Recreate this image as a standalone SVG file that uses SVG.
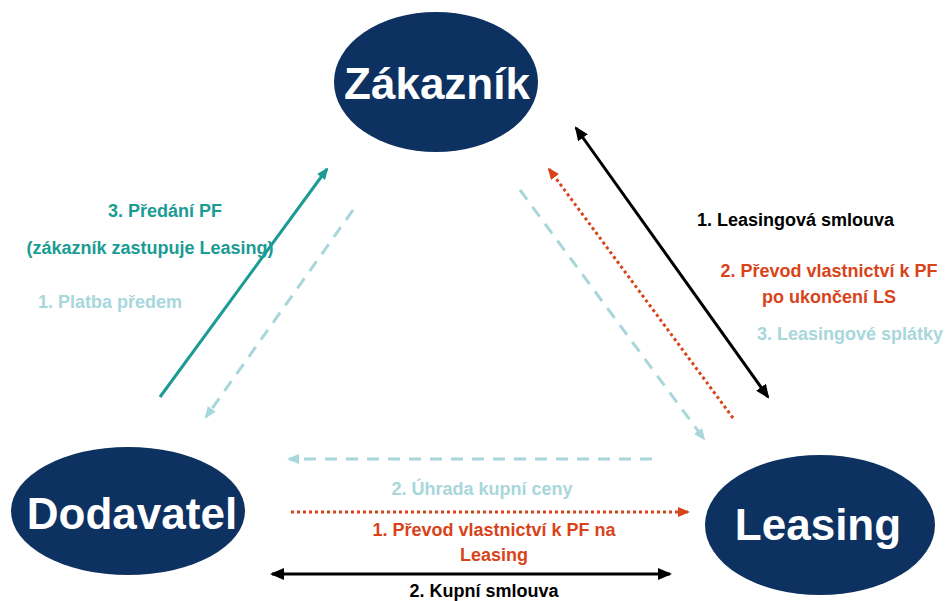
<svg xmlns="http://www.w3.org/2000/svg" width="950" height="601" viewBox="0 0 950 601">
<style>
.node{fill:#0d3160}
.nt{font-family:"Liberation Sans",Arial,sans-serif;font-weight:bold;font-size:44px;fill:#fff;text-anchor:middle}
.lbl{font-family:"Liberation Sans",Arial,sans-serif;font-weight:bold;font-size:18px}
.blk{fill:#000}.tl{fill:#1a9b94}.lt{fill:#a8d7db}.or{fill:#d8431a}
.c{fill:none;stroke-width:3}
.cb{stroke:#000}.ct{stroke:#1a9b94}.cl{stroke:#a8d7db;stroke-dasharray:12 9}.co{stroke:#d8431a;stroke-dasharray:3 3}
</style>
<defs>
<marker id="ab" markerUnits="userSpaceOnUse" viewBox="0 0 14 12" refX="12" refY="6" markerWidth="14" markerHeight="12" orient="auto-start-reverse"><path d="M0,0 L14,6 L0,12 Z" fill="#000"/></marker>
<marker id="at" markerUnits="userSpaceOnUse" viewBox="0 0 12 10" refX="10" refY="5" markerWidth="12" markerHeight="10" orient="auto"><path d="M0,0 L12,5 L0,10 Z" fill="#1a9b94"/></marker>
<marker id="al" markerUnits="userSpaceOnUse" viewBox="0 0 12 10" refX="10" refY="5" markerWidth="12" markerHeight="10" orient="auto"><path d="M0,0 L12,5 L0,10 Z" fill="#a8d7db"/></marker>
<marker id="ao" markerUnits="userSpaceOnUse" viewBox="0 0 12 10" refX="10" refY="5" markerWidth="12" markerHeight="10" orient="auto"><path d="M0,0 L12,5 L0,10 Z" fill="#d8431a"/></marker>
</defs>
<g id="connectors">
<line class="c ct" x1="160" y1="397" x2="327" y2="169" marker-end="url(#at)"/>
<line class="c cl" x1="353" y1="210" x2="206" y2="417" marker-end="url(#al)"/>
<line class="c cb" x1="576" y1="128" x2="768" y2="397" marker-start="url(#ab)" marker-end="url(#ab)"/>
<line class="c co" x1="733" y1="418" x2="549" y2="169" marker-end="url(#ao)"/>
<line class="c cl" x1="520" y1="190" x2="704" y2="439" marker-end="url(#al)"/>
<line class="c cl" x1="652" y1="459" x2="289" y2="459" marker-end="url(#al)"/>
<line class="c co" x1="291" y1="512" x2="688" y2="512" marker-end="url(#ao)"/>
<line class="c cb" x1="272" y1="574" x2="670" y2="574" marker-start="url(#ab)" marker-end="url(#ab)"/>
</g>
<g id="zakaznik"><ellipse class="node" cx="436" cy="82" rx="102" ry="70"/><text class="nt" x="437" y="99">Zákazník</text></g>
<g id="dodavatel"><ellipse class="node" cx="128" cy="511" rx="117" ry="64"/><text class="nt" x="132" y="529">Dodavatel</text></g>
<g id="leasing"><ellipse class="node" cx="820" cy="525" rx="115" ry="70"/><text class="nt" x="818" y="540">Leasing</text></g>
<g id="labels">
<text class="lbl tl" x="165" y="217" text-anchor="middle">3. Předání PF</text>
<text class="lbl tl" x="150" y="254" text-anchor="middle">(zákazník zastupuje Leasing)</text>
<text class="lbl lt" x="38" y="308">1. Platba předem</text>
<text class="lbl blk" x="697" y="226">1. Leasingová smlouva</text>
<text class="lbl or" x="829" y="277" text-anchor="middle">2. Převod vlastnictví k PF</text>
<text class="lbl or" x="829" y="303" text-anchor="middle">po ukončení LS</text>
<text class="lbl lt" x="757" y="340">3. Leasingové splátky</text>
<text class="lbl lt" x="482" y="495" text-anchor="middle">2. Úhrada kupní ceny</text>
<text class="lbl or" x="494" y="536" text-anchor="middle">1. Převod vlastnictví k PF na</text>
<text class="lbl or" x="494" y="561" text-anchor="middle">Leasing</text>
<text class="lbl blk" x="484" y="597" text-anchor="middle">2. Kupní smlouva</text>
</g>
</svg>
